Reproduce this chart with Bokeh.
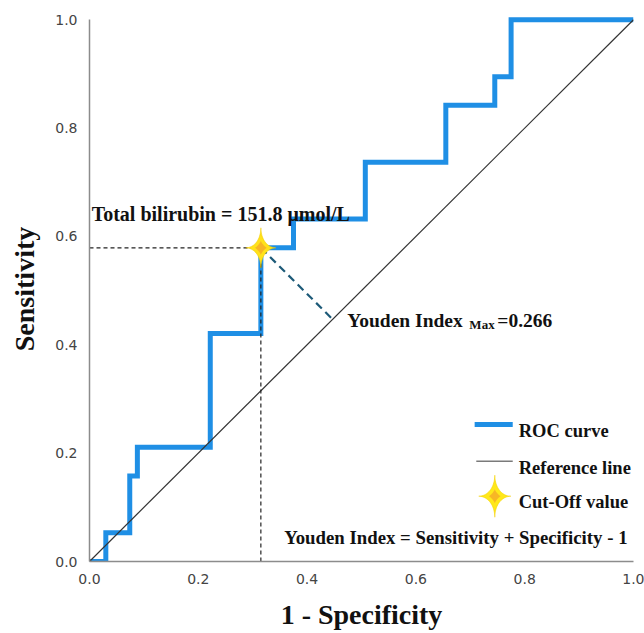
import numpy as np
from bokeh.plotting import figure
from bokeh.models import Label, FixedTicker, PrintfTickFormatter
from bokeh.embed import file_html
from bokeh.resources import INLINE

# ---------------- data ----------------
ROC_FPR = [0.0, 0.030, 0.074, 0.088, 0.222, 0.315, 0.375, 0.507, 0.655, 0.745, 0.775, 1.0]
ROC_TPR = [0.0, 0.053, 0.158, 0.211, 0.421, 0.579, 0.632, 0.737, 0.842, 0.895, 1.0, 1.0]
REF_X = [0.0, 1.0]
REF_Y = [0.0, 1.0]
CUT_FPR = 0.315
CUT_TPR = 0.579
YOUDEN_MAX = "0.266"
CUT_LABEL = "Total bilirubin = 151.8 μmol/L"
TICKS = [0.0, 0.2, 0.4, 0.6, 0.8, 1.0]
LEGEND_LABELS = ["ROC curve", "Reference line", "Cut-Off value"]
FORMULA = "Youden Index = Sensitivity + Specificity - 1"

BLUE = "#1f8fe5"
SERIF = "Liberation Serif"

W, H = 644, 633
BL, BR, BT, BB = 89, 11, 16, 72
p = figure(width=W, height=H, x_range=(0, 1), y_range=(0, 1.006),
           output_backend="svg", toolbar_location=None,
           min_border_left=BL, min_border_right=BR, min_border_top=BT, min_border_bottom=BB)
p.outline_line_color = None
p.grid.visible = False
p.background_fill_color = "white"
p.border_fill_color = "white"

# pixel scale (approx) to build star shapes in data units
SX = (W - BL - BR) / 1.0
SY = (H - BT - BB) / 1.006


def sparkle(cx, cy, rx_px, ry_px, k=3.6, n=120):
    t = np.linspace(0, 2 * np.pi, n)
    c, s = np.cos(t), np.sin(t)
    xs = cx + (rx_px / SX) * np.sign(c) * np.abs(c) ** k
    ys = cy + (ry_px / SY) * np.sign(s) * np.abs(s) ** k
    return list(xs), list(ys)


# axes
for ax in (p.xaxis[0], p.yaxis[0]):
    ax.ticker = FixedTicker(ticks=TICKS)
    ax.formatter = PrintfTickFormatter(format="%.1f")
    ax.bounds = (0, 1)
    ax.major_tick_line_color = None
    ax.minor_tick_line_color = None
    ax.axis_line_color = "#8c8c8c"
    ax.axis_line_width = 1.5
    ax.major_label_text_font = "DejaVu Sans"
    ax.major_label_text_font_size = "14px"
    ax.major_label_text_color = "#444444"
    ax.major_label_standoff = 6
    ax.axis_label_text_font = SERIF
    ax.axis_label_text_font_style = "bold"
    ax.axis_label_text_font_size = "28px"
    ax.axis_label_text_color = "#111111"

p.xaxis.axis_label = "1 - Specificity"
p.yaxis.axis_label = "Sensitivity"
p.xaxis.axis_label_standoff = 12
p.yaxis.axis_label_standoff = 12

# ROC curve
p.step(ROC_FPR, ROC_TPR, mode="after", line_color=BLUE, line_width=5, line_join="miter")
# reference line
p.line(REF_X, REF_Y, line_color="#333333", line_width=1.2)

# guide lines to cut-off
p.line([0, CUT_FPR], [CUT_TPR, CUT_TPR], line_color="#222222", line_width=1.2, line_dash="4 3")
p.line([CUT_FPR, CUT_FPR], [0, CUT_TPR], line_color="#222222", line_width=1.2, line_dash="4 3")
foot = (CUT_FPR + CUT_TPR) / 2
p.line([CUT_FPR, foot], [CUT_TPR, foot], line_color="#1d5a78", line_width=2.2, line_dash="8 5")

# cut-off star
sx, sy = sparkle(CUT_FPR, CUT_TPR, 15, 20)
p.patch(sx, sy, fill_color="#ffe21a", line_color="#f5cf00", line_width=0.6)
sx2, sy2 = sparkle(CUT_FPR, CUT_TPR, 6, 7, k=2.5)
p.patch(sx2, sy2, fill_color="#f4a62a", line_color=None, fill_alpha=0.75)

# annotation texts
p.add_layout(Label(x=0.004, y=0.642, text=CUT_LABEL, text_font=SERIF, text_font_style="bold",
                   text_font_size="20px", text_color="#111111", text_baseline="alphabetic"))
YX, YY = 0.474, 0.4446
p.add_layout(Label(x=YX, y=YY, text="Youden Index", text_font=SERIF, text_font_style="bold",
                   text_font_size="19.5px", text_color="#111111", text_baseline="alphabetic"))
p.add_layout(Label(x=YX, y=YY, x_offset=122, y_offset=-4, text="Max", text_font=SERIF,
                   text_font_style="bold", text_font_size="13px", text_color="#111111",
                   text_baseline="alphabetic"))
p.add_layout(Label(x=YX, y=YY, x_offset=150, text="=" + YOUDEN_MAX, text_font=SERIF,
                   text_font_style="bold", text_font_size="19.5px", text_color="#111111",
                   text_baseline="alphabetic"))

# legend (manual)
LX0, LX1, LTX = 0.708, 0.778, 0.789
LY = [0.2417, 0.1729, 0.1094]
p.line([LX0, LX1], [0.253, 0.253], line_color=BLUE, line_width=5, line_cap="butt")
p.line([LX0 + 0.003, LX1], [0.185, 0.185], line_color="#7a7a7a", line_width=1.5)
lsx, lsy = sparkle(0.745, 0.1205, 16, 21)
p.patch(lsx, lsy, fill_color="#ffe81a", line_color="#f5d400", line_width=0.6)
lsx2, lsy2 = sparkle(0.745, 0.1205, 6, 7, k=2.5)
p.patch(lsx2, lsy2, fill_color="#f4a62a", line_color=None, fill_alpha=0.75)
for lab, yy in zip(LEGEND_LABELS, LY):
    p.add_layout(Label(x=LTX, y=yy, text=lab, text_font=SERIF, text_font_style="bold",
                       text_font_size="18.5px", text_color="#111111", text_baseline="alphabetic"))
p.add_layout(Label(x=0.989, y=0.0448, text=FORMULA, text_font=SERIF, text_font_style="bold",
                   text_font_size="18.8px", text_color="#111111", text_baseline="alphabetic",
                   text_align="right"))

open("out.html", "w").write(file_html(p, INLINE))
